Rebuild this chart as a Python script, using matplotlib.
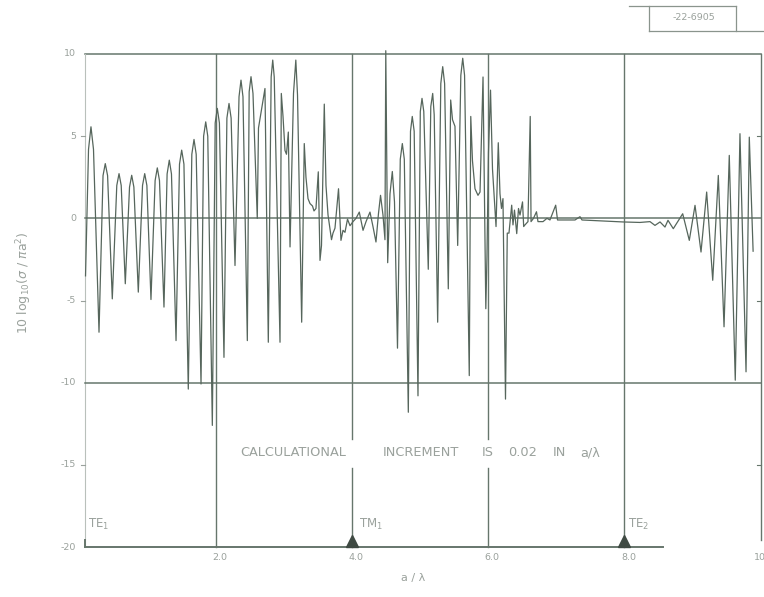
import matplotlib
matplotlib.use("Agg")
import matplotlib.pyplot as plt

# ---- data: normalized radar cross section vs. a/lambda ----
a_over_lambda = [
    0.087, 0.131, 0.167, 0.204, 0.285, 0.344, 0.377, 0.411, 0.480, 0.546,
    0.579, 0.611, 0.671, 0.733, 0.765, 0.797, 0.862, 0.924, 0.956, 0.988,
    1.048, 1.109, 1.141, 1.173, 1.239, 1.285, 1.317, 1.349, 1.416, 1.467,
    1.499, 1.532, 1.596, 1.648, 1.680, 1.712, 1.783, 1.821, 1.852, 1.882,
    1.949, 1.991, 2.022, 2.053, 2.120, 2.163, 2.194, 2.225, 2.282, 2.341,
    2.370, 2.399, 2.463, 2.490, 2.517, 2.546, 2.609, 2.627, 2.678, 2.722,
    2.771, 2.813, 2.836, 2.858, 2.943, 2.962, 2.987, 3.016, 3.038, 3.065,
    3.090, 3.141, 3.175, 3.200, 3.261, 3.299, 3.324, 3.354, 3.383, 3.420,
    3.442, 3.471, 3.505, 3.530, 3.552, 3.593, 3.618, 3.648, 3.699, 3.721,
    3.750, 3.802, 3.838, 3.868, 3.897, 3.934, 3.971, 4.015, 4.059, 4.107,
    4.162, 4.206, 4.264, 4.308, 4.352, 4.389, 4.419, 4.455, 4.484, 4.496,
    4.524, 4.558, 4.592, 4.624, 4.668, 4.709, 4.739, 4.768, 4.827, 4.859,
    4.885, 4.913, 4.969, 5.003, 5.028, 5.054, 5.120, 5.157, 5.185, 5.207,
    5.258, 5.304, 5.332, 5.360, 5.414, 5.449, 5.476, 5.512, 5.552, 5.598,
    5.626, 5.653, 5.722, 5.744, 5.769, 5.806, 5.850, 5.880, 5.924, 5.965,
    5.982, 6.004, 6.034, 6.063, 6.115, 6.148, 6.173, 6.195, 6.217, 6.254,
    6.280, 6.305, 6.345, 6.364, 6.386, 6.419, 6.445, 6.467, 6.504, 6.521,
    6.540, 6.584, 6.617, 6.629, 6.665, 6.709, 6.731, 6.805, 6.863, 6.907,
    6.991, 7.018, 7.128, 7.275, 7.348, 7.377, 7.642, 7.979, 8.229, 8.376,
    8.449, 8.523, 8.596, 8.640, 8.718, 8.856, 8.953, 9.037, 9.125, 9.208,
    9.297, 9.379, 9.463, 9.540, 9.628, 9.697, 9.786, 9.834, 9.890,
]
sigma_db = [
    -3.5, 4.2, 5.57, 4.2, -6.93, 2.6, 3.33, 2.6, -4.9, 2.0,
    2.72, 2.0, -3.98, 1.9, 2.62, 1.9, -4.49, 2.0, 2.72, 2.0,
    -4.94, 2.3, 3.07, 2.3, -5.4, 2.7, 3.54, 2.7, -7.44, 3.3,
    4.15, 3.3, -10.39, 3.9, 4.8, 3.9, -10.08, 5.0, 5.87, 5.0,
    -12.6, 5.8, 6.69, 5.8, -8.46, 6.1, 6.99, 6.1, -2.87, 7.4,
    8.41, 7.4, -7.44, 7.7, 8.62, 7.6, 0.0, 5.5, 6.8, 7.9,
    -7.54, 8.6, 9.63, 8.6, -7.54, 7.6, 6.2, 4.13, 3.9, 5.25,
    -1.74, 7.6, 9.63, 7.5, -6.32, 4.55, 2.5, 1.2, 0.9, 0.75,
    0.45, 0.6, 2.83, -2.56, -1.65, 6.95, 2.0, 0.2, -1.3, -0.9,
    -0.6, 1.8, -1.34, -0.73, -0.85, -0.05, -0.45, -0.2, 0.0, 0.38,
    -0.73, -0.2, 0.38, -0.5, -1.44, 0.3, 1.4, 0.2, -1.3, 10.2,
    -2.7, 1.5, 2.85, 1.0, -7.9, 3.6, 4.55, 3.6, -11.8, 5.3,
    6.2, 5.3, -10.8, 6.5, 7.3, 6.5, -3.1, 6.8, 7.6, 6.3,
    -6.32, 8.2, 9.23, 8.2, -4.29, 7.2, 6.0, 5.6, -1.65, 8.7,
    9.74, 8.7, -9.57, 6.2, 3.5, 1.8, 1.4, 1.6, 8.6, -5.5,
    -2.3, 4.0, 7.8, 3.0, -0.5, 4.6, 1.5, 0.6, 1.2, -11.0,
    -0.9, -0.9, 0.8, -0.4, 0.5, -0.93, 0.6, 0.2, 1.0, -0.5,
    -0.4, -0.2, 6.2, -0.2, 0.0, 0.4, -0.2, -0.2, 0.0, -0.1,
    0.8, -0.1, -0.1, -0.1, 0.1, -0.1, -0.15, -0.22, -0.25, -0.2,
    -0.43, -0.22, -0.53, -0.12, -0.63, 0.28, -1.34, 0.79, -2.05, 1.6,
    -3.77, 2.61, -6.6, 3.83, -9.85, 5.15, -9.34, 4.94, -2.0,
]

# ---- axis annotations ----
y_ticks = [10, 5, 0, -5, -10, -15, -20]
y_tick_labels = ["10", "5", "0", "-5", "-10", "-15", "-20"]
x_ticks = [2, 4, 6, 8, 10]
x_tick_labels = ["2.0", "4.0", "6.0", "8.0", "10.0"]
grid_x = [2, 4, 6, 8]
grid_y = [0, -10]
mode_names = ["TE", "TM", "TE"]
mode_subs = ["1", "1", "2"]
mode_x = [0.12, 4.1, 8.05]
cutoff_x = [4, 8]
note_words = ["CALCULATIONAL", "INCREMENT", "IS", "0.02", "IN", "a/\u03bb"]
note_word_x = [3.14, 5.01, 5.99, 6.51, 7.05, 7.50]
note_y = -14.25
report_id = "-22-6905"

CURVE = "#56665c"
RULE = "#66766c"
TEXT = "#9aa19c"

plt.rcParams["font.family"] = ["DejaVu Sans"]

fig = plt.figure(figsize=(7.64, 5.97), dpi=100)
fig.patch.set_facecolor("white")
ax = fig.add_axes([79.6 / 764, 50 / 597, 681 / 764, 493 / 597])
ax.set_xlim(0, 10)
ax.set_ylim(-20, 10)
ax.axis("off")

x_left = 0.08
x_right = 10.0

# frame: top rule, left and right edges, bottom axis
ax.plot([x_left, x_right], [10, 10], color=RULE, lw=1.1, clip_on=False)
ax.plot([x_left, x_left], [-20, 10], color="#b9c0bb", lw=0.8, clip_on=False)
ax.plot([x_right, x_right], [-19.6, 10], color=RULE, lw=1.0, clip_on=False)
ax.plot([x_left, 8.57], [-20, -20], color=RULE, lw=1.4, clip_on=False)
ax.plot([x_left, x_left], [-20, -19.6], color=RULE, lw=1.4, clip_on=False)

# horizontal reference rules
for gy in grid_y:
    ax.plot([x_left, x_right], [gy, gy], color=RULE, lw=1.1, clip_on=False)

# vertical rules; 4 and 6 are broken around the note
gap_lo, gap_hi = -15.2, -13.4
for gx in grid_x:
    if gx in (4, 6):
        ax.plot([gx, gx], [gap_hi, 10], color=RULE, lw=1.0, clip_on=False)
        ax.plot([gx, gx], [-20, gap_lo], color=RULE, lw=1.0, clip_on=False)
    else:
        ax.plot([gx, gx], [-20, 10], color=RULE, lw=1.0, clip_on=False)

# small tick marks on left and right edges
for v in (5, -5, -15):
    ax.plot([x_left - 0.06, x_left], [v, v], color=TEXT, lw=0.8, clip_on=False)
    ax.plot([x_right - 0.06, x_right], [v, v], color=RULE, lw=0.8, clip_on=False)

# the curve
ax.plot(a_over_lambda, sigma_db, color=CURVE, lw=0.9, clip_on=False,
        solid_joinstyle="round")

# cutoff markers
for cx in cutoff_x:
    ax.plot([cx], [-19.62], marker="^", markersize=8, color="#3f4a43",
            clip_on=False, linestyle="none")

# mode labels
for name, sub, mx in zip(mode_names, mode_subs, mode_x):
    ax.text(mx, -18.6, r"$\mathregular{" + name + "_{" + sub + "}}$",
            color=TEXT, fontsize=8.5, ha="left", va="center")

# tick labels
for v, lab in zip(y_ticks, y_tick_labels):
    ax.text(-0.05, v, lab, color=TEXT, fontsize=6.8, ha="right", va="center",
            clip_on=False)
for v, lab in zip(x_ticks, x_tick_labels):
    ax.text(v + 0.06, -20.65, lab, color=TEXT, fontsize=6.8, ha="center",
            va="center", clip_on=False)

# axis titles
ax.text(4.9, -21.9, "a / \u03bb", color=TEXT, fontsize=8, ha="center",
        va="center", clip_on=False)
fig.text(24 / 764, 1 - 283 / 597, r"10 log$_{10}$($\sigma$ / $\pi$a$^2$)",
         color=TEXT, fontsize=9, rotation=90, ha="center", va="center",
         math_fontfamily="dejavusans")

# note on the calculation step
for word, wx in zip(note_words, note_word_x):
    ax.text(wx, note_y, word, color=TEXT, fontsize=9.3, ha="center",
            va="center")

# report number box, top right
fig.text(694 / 764, 1 - 18 / 597, report_id, color=TEXT, fontsize=6.8,
         ha="center", va="center")
box_color = "#8a948d"
fig.add_artist(plt.Line2D([629 / 764, 736 / 764], [1 - 6 / 597] * 2,
                          color=box_color, lw=0.9))
fig.add_artist(plt.Line2D([649 / 764, 649 / 764], [1 - 6 / 597, 1 - 31 / 597],
                          color=box_color, lw=0.9))
fig.add_artist(plt.Line2D([736 / 764, 736 / 764], [1 - 6 / 597, 1 - 31 / 597],
                          color=box_color, lw=0.9))
fig.add_artist(plt.Line2D([649 / 764, 1.0], [1 - 31 / 597] * 2,
                          color=box_color, lw=0.9))

fig.savefig("out.png", dpi=100, facecolor="white")
